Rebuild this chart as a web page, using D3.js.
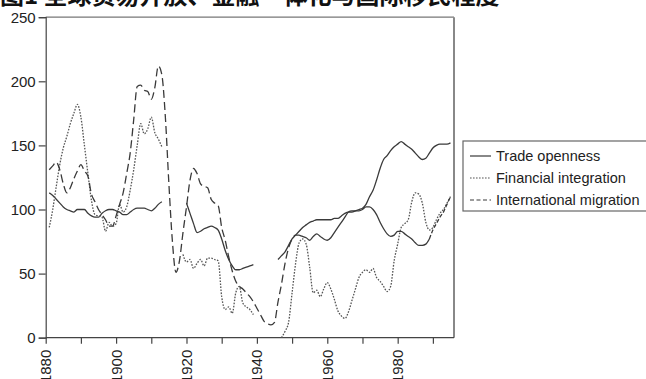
<!DOCTYPE html>
<html><head><meta charset="utf-8">
<script src="https://cdn.jsdelivr.net/npm/d3@7"></script>
<style>
html,body{margin:0;padding:0;background:#fff;overflow:hidden}
svg{display:block}
</style></head>
<body>
<svg id="chart" width="646" height="379"></svg>
<script>
// ---------- data ----------
const title = "图1 全球贸易开放、金融一体化与国际移民程度";
const seriesNames = ["Trade openness", "Financial integration", "International migration"];
const years = d3.range(1881, 1996);
const yTicks = [0, 50, 100, 150, 200, 250];
const xTickYears = d3.range(1880, 2000, 10);
const xLabelYears = [1880, 1900, 1920, 1940, 1960, 1980];

const N = null;
const trade = [
  113,111,108,105,102,100,99,98,100,100,100,97,95,94,94,97,99,100,100,99,
  98,96,96,98,100,101,101,101,100,99,101,104,106,
  N,N,N,N,N,N,
  105,97,89,82,83,85,86,87,86,84,77,68,61,56,53,53,54,55,56,57,
  N,N,N,N,N,N,
  61,64,67,72,77,80,83,86,88,90,
  91,92,92,92,92,92,93,93,95,97,
  98,98,99,100,101,104,110,115,123,132,
  139,142,146,149,151,153,151,149,147,144,
  141,139,140,144,148,150,151,151,151,152
];
const financial = [
  86,100,118,135,148,157,167,175,182,172,150,128,107,96,95,94,83,90,87,89,
  104,98,102,115,131,150,167,159,163,172,160,155,149,
  N,N,N,N,N,
  65,59,61,54,58,61,56,62,62,61,60,32,22,24,19,35,40,27,24,22,18,
  N,N,N,N,N,N,N,
  0,5,12,35,58,74,77,73,55,35,
  37,32,38,43,38,30,21,17,15,20,
  29,38,47,51,53,51,54,47,44,40,
  36,40,60,73,86,89,92,106,113,112,
  105,90,84,86,92,97,100,105,110
];
const migration = [
  131,134,137,131,120,113,117,124,130,135,130,126,112,106,100,96,92,87,87,95,
  104,113,128,144,170,196,197,193,192,186,195,212,205,172,120,75,51,60,82,102,
  123,132,128,120,118,117,108,105,103,86,76,63,52,44,40,38,35,32,28,23,
  18,13,11,10,12,28,42,58,70,77,80,80,79,78,76,79,81,79,77,76,
  78,82,86,90,94,98,99,99,99,100,102,102,100,96,90,85,81,79,80,83,
  83,81,79,77,74,72,72,73,77,84,89,94,98,104,110
];

// ---------- layout ----------
const svg = d3.select("#chart");
const font = "'Liberation Sans', Arial, Helvetica, sans-serif";
const x = d3.scaleLinear().domain([1880, 1996]).range([45.7, 454]);
const y = d3.scaleLinear().domain([0, 250]).range([337.7, 17.2]);
const ink = "#3a3a3a";

// title (cut off at top, as in reference)
svg.append("text").attr("x", 0).attr("y", 4)
  .attr("font-family", "'Noto Sans CJK SC', sans-serif").attr("font-weight", "bold")
  .attr("font-size", 24).attr("fill", "#111").text(title);

// frame
svg.append("line").attr("x1", x(1880)).attr("x2", x(1996)).attr("y1", y(250)).attr("y2", y(250))
  .attr("stroke", "#777").attr("stroke-width", 1.2);
svg.append("line").attr("x1", x(1996)).attr("x2", x(1996)).attr("y1", y(250)).attr("y2", y(0))
  .attr("stroke", "#888").attr("stroke-width", 2);

// y axis
const yAxis = svg.append("g").attr("transform", `translate(${x(1880)},0)`)
  .call(d3.axisLeft(y).tickValues(yTicks).tickSize(7).tickPadding(3));
yAxis.selectAll("text").attr("font-family", font).attr("font-size", 15).attr("fill", "#222");
yAxis.selectAll("line,path").attr("stroke", "#444").attr("stroke-width", 1.2);

// x axis
const xAxis = svg.append("g").attr("transform", `translate(0,${y(0)})`)
  .call(d3.axisBottom(x).tickValues(xTickYears).tickSize(6).tickFormat(""));
xAxis.selectAll("line,path").attr("stroke", "#444").attr("stroke-width", 1.2);
xAxis.select("path").attr("d", `M${x(1880)},0H${x(1996)}`);

svg.append("g").selectAll("text").data(xLabelYears).join("text")
  .attr("transform", d => `translate(${x(d)},${y(0) + 12}) rotate(-90)`)
  .attr("text-anchor", "end").attr("dy", "0.36em")
  .attr("font-family", font).attr("font-size", 15).attr("fill", "#222")
  .text(d => d);

// lines
const mkLine = (vals, lo, hi) => d3.line()
  .defined((d, i) => d != null && years[i] >= lo && years[i] <= hi)
  .x((d, i) => x(years[i])).y(d => y(d))
  .curve(d3.curveMonotoneX)(vals);

const g = svg.append("g").attr("fill", "none");
g.append("path").attr("d", mkLine(trade, 1880, 2000))
  .attr("stroke", ink).attr("stroke-width", 1.3);
g.append("path").attr("d", mkLine(financial, 1880, 2000))
  .attr("stroke", "#555").attr("stroke-width", 1.3).attr("stroke-dasharray", "1.6,1.4");
// migration: dashed, with the long post-war stretch rendering as nearly continuous
g.append("path").attr("d", mkLine(migration, 1880, 1952))
  .attr("stroke", ink).attr("stroke-width", 1.3).attr("stroke-dasharray", "8,4");
g.append("path").attr("d", mkLine(migration, 1952, 1989))
  .attr("stroke", ink).attr("stroke-width", 1.3);
g.append("path").attr("d", mkLine(migration, 1989, 2000))
  .attr("stroke", ink).attr("stroke-width", 1.3).attr("stroke-dasharray", "4,2");

// legend
const lg = svg.append("g").attr("transform", "translate(463,141)");
lg.append("rect").attr("x", 0).attr("y", 0).attr("width", 184).attr("height", 70)
  .attr("fill", "#fff").attr("stroke", "#666").attr("stroke-width", 1.2);
const dashes = [null, "1.6,1.4", "4,2.5"];
const strokes = [ink, "#555", ink];
seriesNames.forEach((name, i) => {
  const cy = 15 + i * 22;
  lg.append("line").attr("x1", 7).attr("x2", 28).attr("y1", cy).attr("y2", cy)
    .attr("stroke", strokes[i]).attr("stroke-width", 1.2)
    .attr("stroke-dasharray", dashes[i]);
  lg.append("text").attr("x", 33).attr("y", cy).attr("dy", "0.35em")
    .attr("font-family", font).attr("font-size", 14.5).attr("fill", "#222").text(name);
});
</script>
</body></html>
